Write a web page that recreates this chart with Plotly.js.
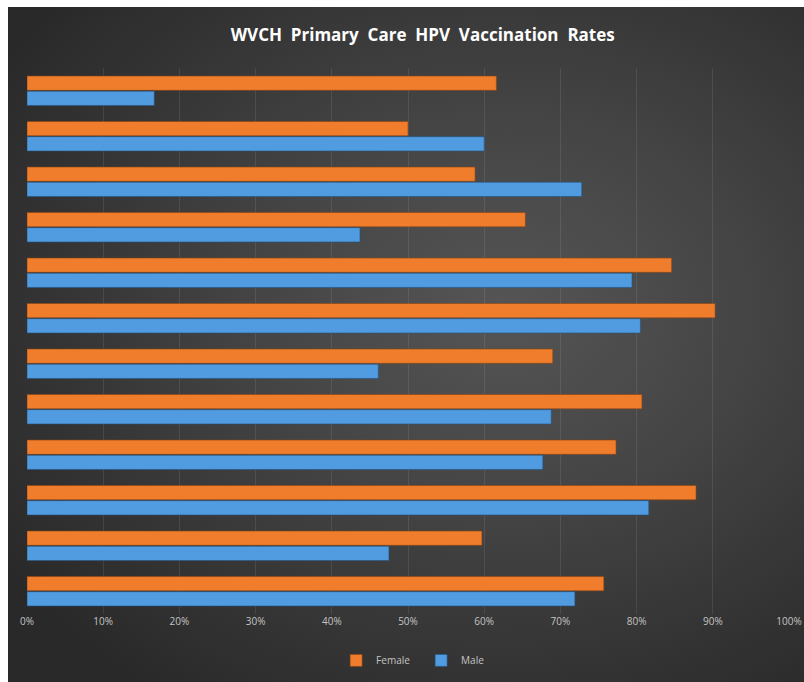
<!DOCTYPE html>
<html>
<head>
<meta charset="utf-8">
<script src="https://cdn.plot.ly/plotly-3.0.1.min.js"></script>
<style>
  html, body { margin: 0; padding: 0; background: #ffffff; width: 804px; height: 682px; overflow: hidden; }
  #chart {
    position: absolute; left: 8px; top: 7px; width: 796px; height: 675px;
    background: radial-gradient(ellipse 75% 70% at 62% 45%, #555555 0%, #454545 40%, #343434 75%, #292929 100%);
  }
</style>
</head>
<body>
<div id="chart"></div>
<script>
// Data (top group first)
const categories = ['Group 1','Group 2','Group 3','Group 4','Group 5','Group 6',
                    'Group 7','Group 8','Group 9','Group 10','Group 11','Group 12'];
const female = [0.616, 0.500, 0.588, 0.654, 0.846, 0.903, 0.690, 0.807, 0.773, 0.878, 0.597, 0.757];
const male   = [0.167, 0.600, 0.728, 0.437, 0.794, 0.805, 0.461, 0.688, 0.677, 0.816, 0.475, 0.719];
const xTicks = [0, 0.1, 0.2, 0.3, 0.4, 0.5, 0.6, 0.7, 0.8, 0.9, 1.0];

const traces = [
  {
    type: 'bar', orientation: 'h', name: 'Female',
    y: categories, x: female,
    marker: { color: '#F07D2C', line: { color: '#8a4414', width: 0.6 } }
  },
  {
    type: 'bar', orientation: 'h', name: 'Male',
    y: categories, x: male,
    marker: { color: '#519CE0', line: { color: '#25527e', width: 0.6 } }
  }
];

const layout = {
  width: 796, height: 675,
  paper_bgcolor: 'rgba(0,0,0,0)',
  plot_bgcolor: 'rgba(0,0,0,0)',
  margin: { l: 19, r: 15, t: 61, b: 68 },
  barmode: 'group',
  bargap: 0.334,
  bargroupgap: 0.056,
  title: {
    text: '<b>WVCH  Primary  Care  HPV  Vaccination  Rates</b>',
    font: { family: 'Open Sans, sans-serif', size: 17, color: '#ffffff' },
    x: 0.521, xref: 'container', xanchor: 'center',
    y: 0.958, yref: 'container', yanchor: 'middle'
  },
  xaxis: {
    range: [0, 1],
    tickvals: xTicks,
    tickformat: '.0%',
    showgrid: true,
    gridcolor: 'rgba(255,255,255,0.09)',
    gridwidth: 1,
    zeroline: false,
    showline: false,
    ticks: '',
    tickfont: { family: 'Open Sans, sans-serif', size: 10, color: '#c4c4c4' },
    fixedrange: true
  },
  yaxis: {
    autorange: 'reversed',
    showticklabels: false,
    showgrid: false,
    zeroline: false,
    showline: false,
    ticks: '',
    fixedrange: true
  },
  showlegend: true,
  legend: {
    orientation: 'h',
    x: 0.519, xref: 'container', xanchor: 'center',
    y: 0.032, yref: 'container', yanchor: 'middle',
    font: { family: 'Open Sans, sans-serif', size: 10, color: '#c4c4c4' },
    bgcolor: 'rgba(0,0,0,0)',
    itemwidth: 30,
    entrywidth: 40,
    entrywidthmode: 'pixels',
    traceorder: 'normal'
  }
};

Plotly.newPlot('chart', traces, layout, { displayModeBar: false, staticPlot: true });
</script>
</body>
</html>
